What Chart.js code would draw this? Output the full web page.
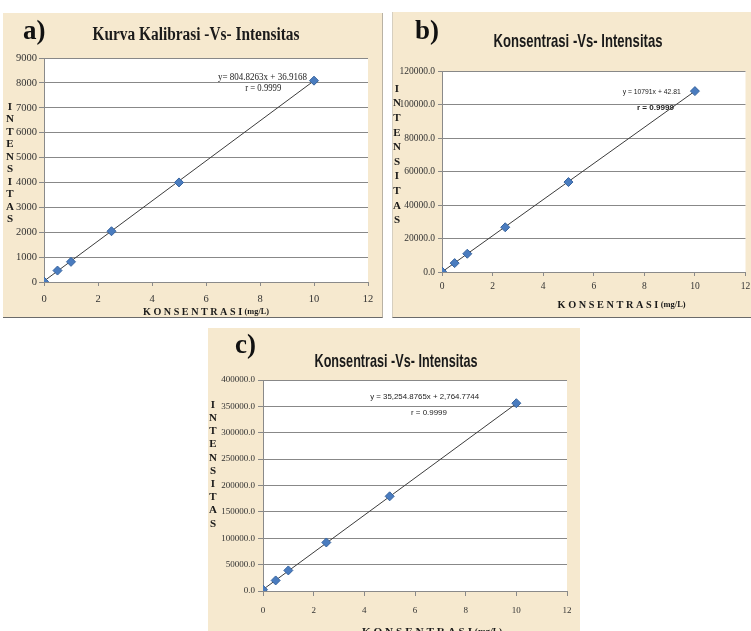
<!DOCTYPE html>
<html><head><meta charset="utf-8">
<script src="https://cdn.jsdelivr.net/npm/chart.js@4.4.1/dist/chart.umd.min.js"></script>
<style>
html,body{margin:0;padding:0;background:#fff}
body{width:751px;height:631px;overflow:hidden;position:relative}
.panel{position:absolute;background:#f6e9cf;overflow:hidden}
.panel canvas{display:block}
#pa{left:3px;top:13px;width:380px;height:305px;border-right:1px solid #b9b2a4;border-bottom:1px solid #6a6a6a;box-sizing:border-box}
#pb{left:392px;top:12px;width:359px;height:306px;border-left:1px solid #d6cfc0;border-bottom:1px solid #6a6a6a;box-sizing:border-box}
#pc{left:208px;top:328px;width:372px;height:303px}
</style></head><body>
<div class="panel" id="pa"><canvas id="ca"></canvas></div>
<div class="panel" id="pb"><canvas id="cb"></canvas></div>
<div class="panel" id="pc"><canvas id="cc"></canvas></div>
<script>
// ---- data ----
const concentrations = [0, 0.5, 1, 2.5, 5, 10];          // mg/L
const intensityA = [20, 460, 810, 2040, 4000, 8090];
const intensityB = [300, 5300, 10900, 26700, 53700, 108000];
const intensityC = [2500, 20000, 39000, 92000, 179500, 356000];
const trendX = [0, 10];
const trendA = [36.9, 8085];
const trendB = [42.8, 107953];
const trendC = [2764.8, 355313];
const xTicks = [0, 2, 4, 6, 8, 10, 12];
const yTicksA = [0, 1000, 2000, 3000, 4000, 5000, 6000, 7000, 8000, 9000];
const yTicksB = [0, 20000, 40000, 60000, 80000, 100000, 120000];
const yTicksC = [0, 50000, 100000, 150000, 200000, 250000, 300000, 350000, 400000];
const titles = ['Kurva Kalibrasi -Vs- Intensitas', 'Konsentrasi -Vs- Intensitas', 'Konsentrasi -Vs- Intensitas'];
const tags = ['a)', 'b)', 'c)'];
const eqTexts = ['y= 804.8263x + 36.9168', 'y = 10791x + 42.81', 'y = 35,254.8765x + 2,764.7744'];
const rText = 'r = 0.9999';
const yLetters = ['I','N','T','E','N','S','I','T','A','S'];
const xTitleMain = 'K O N S E N T R A S I ';
const xTitleUnit = '(mg/L)';

function fitText(ctx, text, cx, y, font, width, color){
  ctx.save();
  ctx.font = font; ctx.fillStyle = color; ctx.textBaseline = 'alphabetic'; ctx.textAlign = 'center';
  const w = ctx.measureText(text).width;
  const s = width ? width / w : 1;
  ctx.translate(cx, y); ctx.scale(s, 1); ctx.fillText(text, 0, 0);
  ctx.restore();
}

function makeDeco(spec){
  return {
    id: 'deco',
    beforeDraw(chart){
      const {ctx, chartArea: a} = chart;
      ctx.save(); ctx.fillStyle = '#ffffff';
      ctx.fillRect(a.left, a.top, a.right - a.left, a.bottom - a.top);
      ctx.restore();
    },
    afterDraw(chart){
      const ctx = chart.ctx, xs = chart.scales.x, ys = chart.scales.y;
      // tag a) b) c)
      ctx.save(); ctx.font = 'bold 27px "Liberation Serif"'; ctx.fillStyle = '#111';
      ctx.textAlign = 'left'; ctx.textBaseline = 'alphabetic';
      ctx.fillText(spec.tag, spec.tagX, spec.tagY); ctx.restore();
      // title
      fitText(ctx, spec.title, spec.titleX, spec.titleY, spec.titleFont, spec.titleW, '#1a1a1a');
      // stacked vertical axis title
      ctx.save(); ctx.font = spec.letterFont; ctx.fillStyle = '#1a1a1a';
      ctx.textAlign = 'center'; ctx.textBaseline = 'middle';
      yLetters.forEach((l, i) => ctx.fillText(l, spec.lettersX, spec.lettersY + i * spec.lettersStep));
      ctx.restore();
      // x axis title
      ctx.save();
      const f1 = 'bold 11px "Liberation Serif"', f2 = 'bold 9px "Liberation Serif"';
      ctx.font = f1; const w1 = ctx.measureText(xTitleMain).width;
      ctx.font = f2; const w2 = ctx.measureText(xTitleUnit).width;
      const s = spec.xTitleW / (w1 + w2);
      const cx = xs.getPixelForValue(spec.xTitleAt);
      ctx.translate(cx - spec.xTitleW / 2, spec.xTitleY); ctx.scale(s, 1);
      ctx.fillStyle = '#1a1a1a'; ctx.textBaseline = 'middle'; ctx.textAlign = 'left';
      ctx.font = f1; ctx.fillText(xTitleMain, 0, 0);
      ctx.font = f2; ctx.fillText(xTitleUnit, w1, 0);
      ctx.restore();
      // equation annotation
      fitText(ctx, spec.eq, xs.getPixelForValue(spec.eqX), ys.getPixelForValue(spec.eqY1), spec.eqFont, spec.eqW, '#222');
      fitText(ctx, rText, xs.getPixelForValue(spec.rX), ys.getPixelForValue(spec.eqY2), spec.rFont, spec.rW, '#222');
    }
  };
}

function build(canvasId, w, h, intens, trend, yTicks, yMax, decimals, lay, spec){
  const cv = document.getElementById(canvasId);
  cv.width = w; cv.height = h; cv.style.width = w + 'px'; cv.style.height = h + 'px';
  const tickFont = {family: '"Liberation Serif"', size: lay.fontSize};
  new Chart(cv, {
    data: {
      datasets: [
        {type: 'scatter', data: concentrations.map((x, i) => ({x, y: intens[i]})),
         pointStyle: 'rectRot', pointRadius: 4.5, backgroundColor: '#4a7cbf', borderColor: '#37649f', borderWidth: 1},
        {type: 'line', data: trendX.map((x, i) => ({x, y: trend[i]})),
         borderColor: '#3c3c3c', borderWidth: 1, pointRadius: 0, fill: false, tension: 0}
      ]
    },
    options: {
      responsive: false, animation: false, devicePixelRatio: 1,
      layout: {padding: {left: 0, top: lay.top, right: lay.right, bottom: 0}},
      plugins: {legend: {display: false}, tooltip: {enabled: false}, title: {display: false}},
      scales: {
        x: {type: 'linear', min: 0, max: 12,
            afterBuildTicks: s => { s.ticks = xTicks.map(v => ({value: v})); },
            ticks: {font: tickFont, color: '#333333', padding: lay.xPad, maxRotation: 0, autoSkip: false},
            grid: {drawOnChartArea: false, drawTicks: true, tickLength: lay.xTick, color: '#8a8a8a'},
            border: {color: '#8a8a8a', width: 1},
            afterFit: s => { s.height = lay.xH; s.paddingLeft = 0; s.paddingRight = 0; }},
        y: {type: 'linear', min: 0, max: yMax,
            afterBuildTicks: s => { s.ticks = yTicks.map(v => ({value: v})); },
            ticks: {font: tickFont, color: '#333333', padding: lay.yPad, autoSkip: false,
                    callback: v => decimals ? Number(v).toFixed(1) : String(v)},
            grid: {color: '#888888', lineWidth: 1, tickLength: lay.yTick},
            border: {color: '#8a8a8a', width: 1},
            afterFit: s => { s.width = lay.yW; s.paddingTop = 0; s.paddingBottom = 0; }}
      }
    },
    plugins: [makeDeco(spec)]
  });
}

// panel a
build('ca', 379, 304, intensityA, trendA, yTicksA, 9000, false,
  {top: 45, right: 14, xH: 35, yW: 41, fontSize: 10.5, xPad: 7, xTick: 4, yPad: 2, yTick: 5},
  {tag: tags[0], tagX: 20, tagY: 26, title: titles[0], titleX: 193, titleY: 27,
   titleFont: 'bold 18px "Liberation Serif"', titleW: 207,
   letterFont: 'bold 11px "Liberation Serif"', lettersX: 7, lettersY: 94, lettersStep: 12.5,
   xTitleAt: 6.0, xTitleY: 299, xTitleW: 126,
   eq: eqTexts[0], eqX: 8.09, eqY1: 8130, eqY2: 7660, eqFont: '10px "Liberation Serif"', eqW: 89,
   rX: 8.12, rFont: '10px "Liberation Serif"', rW: 36});

// panel b
build('cb', 358, 305, intensityB, trendB, yTicksB, 120000, true,
  {top: 59, right: 1, xH: 45, yW: 49, fontSize: 9.5, xPad: 5, xTick: 4, yPad: 3, yTick: 4},
  {tag: tags[1], tagX: 22, tagY: 27, title: titles[1], titleX: 185, titleY: 35,
   titleFont: 'bold 19px "Liberation Sans"', titleW: 169,
   letterFont: 'bold 11px "Liberation Serif"', lettersX: 4, lettersY: 77, lettersStep: 14.6,
   xTitleAt: 7.1, xTitleY: 293, xTitleW: 128,
   eq: eqTexts[1], eqX: 8.29, eqY1: 106200, eqY2: 96800, eqFont: '8px "Liberation Sans"', eqW: 58,
   rX: 8.44, rFont: 'bold 8px "Liberation Sans"', rW: 37});

// panel c
build('cc', 372, 303, intensityC, trendC, yTicksC, 400000, true,
  {top: 52, right: 13, xH: 40, yW: 55, fontSize: 9, xPad: 9, xTick: 5, yPad: 3, yTick: 5},
  {tag: tags[2], tagX: 27, tagY: 25, title: titles[2], titleX: 188, titleY: 39,
   titleFont: 'bold 19px "Liberation Sans"', titleW: 163,
   letterFont: 'bold 11px "Liberation Serif"', lettersX: 5, lettersY: 77, lettersStep: 13.2,
   xTitleAt: 6.67, xTitleY: 304, xTitleW: 140,
   eq: eqTexts[2], eqX: 6.38, eqY1: 364000, eqY2: 334000, eqFont: '8px "Liberation Sans"', eqW: 109,
   rX: 6.55, rFont: '8px "Liberation Sans"', rW: 36});
</script>
</body></html>
